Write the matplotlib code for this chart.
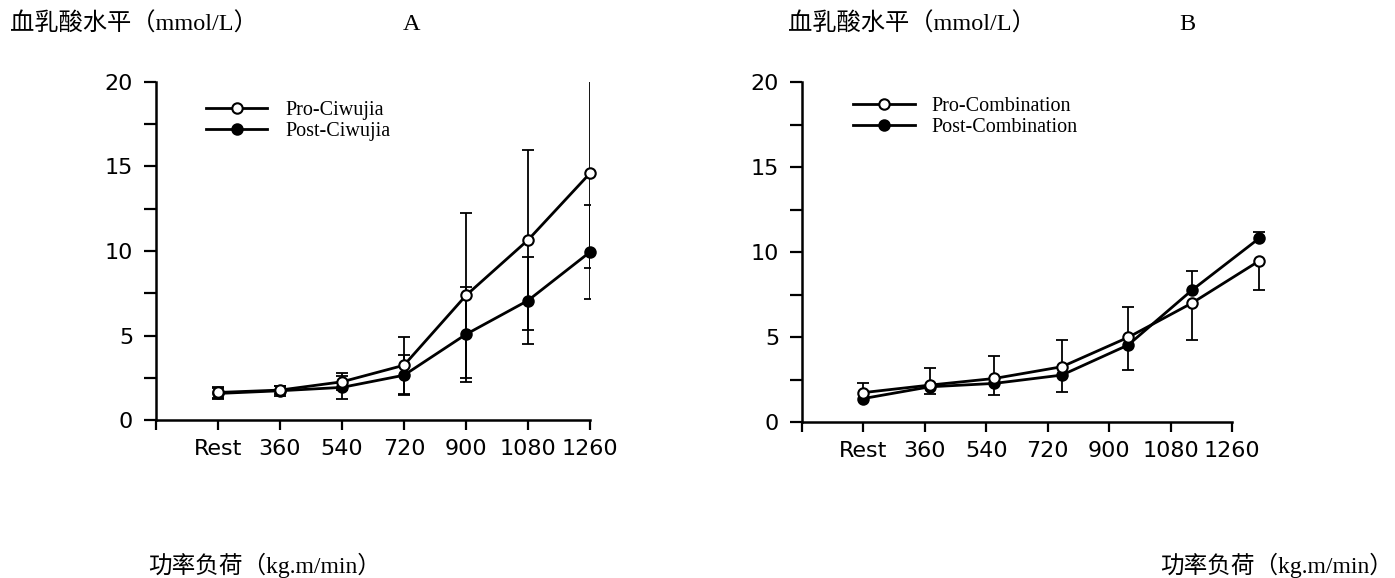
import numpy as np
import matplotlib.pyplot as plt

plt.rcParams['font.family'] = ['DejaVu Sans']

loads = ["Rest", "360", "540", "720", "900", "1080", "1260"]

# A: Ciwujia
a_pro = [1.63, 1.77, 2.26, 3.24, 7.37, 10.65, 14.6]
a_pro_err = [0.3, 0.25, 0.5, 1.7, 4.9, 5.35, 5.6]
a_post = [1.57, 1.73, 1.93, 2.65, 5.07, 7.07, 9.94]
a_post_err = [0.3, 0.3, 0.7, 1.2, 2.8, 2.55, 2.8]

# B: Combination (points sit a bit off the tick grid in the original)
# only one side of each error bar is drawn in the original
b_xpos = [1.0, 2.08, 3.13, 4.23, 5.31, 6.35, 7.44]
b_pro = [1.73, 2.17, 2.56, 3.25, 4.98, 7.0, 9.47]
b_pro_lo = [np.nan, np.nan, np.nan, np.nan, np.nan, 2.18, 1.71]
b_pro_up = [0.57, 1.0, 1.3, 1.6, 1.76, np.nan, np.nan]
b_post = [1.38, 2.07, 2.27, 2.76, 4.53, 7.76, 10.8]
b_post_lo = [np.nan, 0.45, 0.7, 1.0, 1.48, np.nan, np.nan]
b_post_up = [np.nan, np.nan, np.nan, np.nan, np.nan, 1.14, 0.4]

W, H = 1395, 578
fig = plt.figure(figsize=(W / 100, H / 100), dpi=100)

serif_cjk = ['Liberation Serif', 'Noto Sans CJK SC']


def style_axes(ax, ntick):
    for s in ['top', 'right']:
        ax.spines[s].set_visible(False)
    for s in ['left', 'bottom']:
        ax.spines[s].set_linewidth(1.8)
    ax.set_ylim(0, 20)
    ax.set_yticks([0, 5, 10, 15, 20])
    ax.set_yticks([2.5, 7.5, 12.5, 17.5], minor=True)
    ax.tick_params(axis='y', which='both', direction='out', length=8.5, width=1.6,
                   labelsize=16, pad=8)
    ax.tick_params(axis='x', direction='out', length=7, width=1.6, labelsize=16, pad=7)
    ax.set_xticks(np.arange(ntick + 1))
    ax.set_xticklabels([""] + loads)
    ax.set_xlim(0, ntick)


def lines(ax, x, pro, post):
    l1, = ax.plot(x, pro, '-o', color='black', lw=2, ms=7.5, mfc='white', mec='black',
                  mew=1.5, clip_on=False, zorder=4)
    l2, = ax.plot(x, post, '-o', color='black', lw=2, ms=7.5, mfc='black', mec='black',
                  mew=1.5, clip_on=False, zorder=3)
    return l1, l2


def half_bars(ax, x, y, lo, up):
    # vertical bar plus caps only on the sides that have an error value
    x = np.asarray(x)
    y = np.asarray(y)
    lo = np.asarray(lo)
    up = np.asarray(up)
    ax.vlines(x, y - np.nan_to_num(lo), y + np.nan_to_num(up), color='black', lw=1.3,
              zorder=2, clip_on=False)
    ax.plot(x, y + up, '_', color='black', ms=9, mew=1.3, ls='none', zorder=2, clip_on=False)
    ax.plot(x, y - lo, '_', color='black', ms=9, mew=1.3, ls='none', zorder=2, clip_on=False)


# panel A
axA = fig.add_axes([156 / W, 1 - 420 / H, 434 / W, 338 / H])
style_axes(axA, 7)
xa = np.arange(1, 8)
for vals, err in [(a_pro, a_pro_err), (a_post, a_post_err)]:
    axA.errorbar(xa, vals, yerr=err, fmt='none', ecolor='black', elinewidth=1.3,
                 capsize=4.5, capthick=1.3, zorder=2)
l1, l2 = lines(axA, xa, a_pro, a_post)
fig.legend([l1, l2], ["Pro-Ciwujia", "Post-Ciwujia"], loc='upper left',
           bbox_to_anchor=(206 / W, 1 - 101 / H), frameon=False,
           prop={'family': 'Liberation Serif', 'size': 14.5},
           handlelength=3.05, handletextpad=0.9, labelspacing=0.1, borderpad=0,
           borderaxespad=0)

# panel B
axB = fig.add_axes([802 / W, 1 - 422 / H, 430 / W, 340 / H])
style_axes(axB, 7)
half_bars(axB, b_xpos, b_pro, b_pro_lo, b_pro_up)
half_bars(axB, b_xpos, b_post, b_post_lo, b_post_up)
l3, l4 = lines(axB, b_xpos, b_pro, b_post)
fig.legend([l3, l4], ["Pro-Combination", "Post-Combination"], loc='upper left',
           bbox_to_anchor=(853 / W, 1 - 97 / H), frameon=False,
           prop={'family': 'Liberation Serif', 'size': 14.5},
           handlelength=3.1, handletextpad=0.8, labelspacing=0.1, borderpad=0,
           borderaxespad=0)

# titles and axis labels
fig.text(10 / W, 1 - 24 / H, "血乳酸水平（mmol/L）", family=serif_cjk, fontsize=17.5,
         ha='left', va='center')
fig.text(412 / W, 1 - 25 / H, "A", family=serif_cjk, fontsize=17.5, ha='center', va='center')
fig.text(788 / W, 1 - 24 / H, "血乳酸水平（mmol/L）", family=serif_cjk, fontsize=17.5,
         ha='left', va='center')
fig.text(1187 / W, 1 - 25 / H, "B", family=serif_cjk, fontsize=17.5, ha='center', va='center')
fig.text(148 / W, 1 - 565 / H, "功率负荷（kg.m/min）", family=serif_cjk, fontsize=17,
         ha='left', va='center')
fig.text(1393 / W, 1 - 565 / H, "功率负荷（kg.m/min）", family=serif_cjk, fontsize=17,
         ha='right', va='center')

fig.savefig("out.png", dpi=100, facecolor='white')
